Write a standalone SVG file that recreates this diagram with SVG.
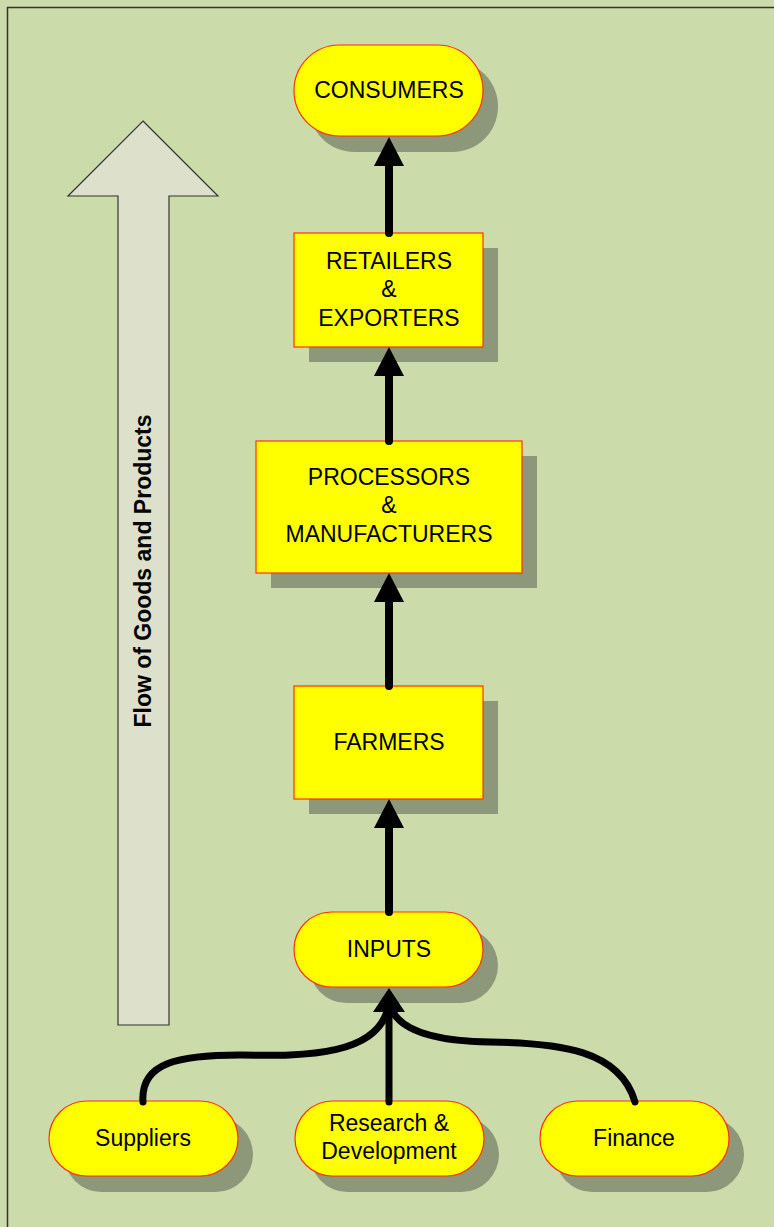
<svg xmlns="http://www.w3.org/2000/svg" width="774" height="1227" viewBox="0 0 774 1227">
<defs>
<style>
.node{fill:#ffff00;stroke:#ff3300;stroke-width:1.2}
.shadow{fill:#8d977a}
.lbl{font-family:"Liberation Sans",Arial,sans-serif;font-size:23px;fill:#000;text-anchor:middle}
.edge{stroke:#000;stroke-width:8;fill:none;stroke-linecap:round}
.edge2{stroke:#000;stroke-width:7;fill:none;stroke-linecap:round}
.head{fill:#000}
</style>
</defs>
<rect x="0" y="0" width="774" height="1227" fill="#ccdbaa"/>
<path d="M7.5,1227 V7.5 H774" fill="none" stroke="#333" stroke-width="1.5"/>

<g id="flow-arrow">
<polygon points="143,121 218,196 169,196 169,1025 118,1025 118,196 68,196" fill="#dde0ca" stroke="#333" stroke-width="1.2"/>
<text class="lbl" transform="translate(151,571) rotate(-90)" style="font-weight:bold">Flow of Goods and Products</text>
</g>

<g id="consumers">
<rect class="shadow" x="309" y="61" width="189" height="91" rx="45.5"/>
<rect class="node" x="294" y="45" width="189" height="91" rx="45.5"/>
<text class="lbl" x="389" y="98">CONSUMERS</text>
</g>

<g id="retailers">
<rect class="shadow" x="309" y="248" width="189" height="114"/>
<rect class="node" x="294" y="233" width="189" height="114"/>
<text class="lbl" x="389" y="269">RETAILERS</text>
<text class="lbl" x="389" y="297">&amp;</text>
<text class="lbl" x="389" y="326">EXPORTERS</text>
</g>

<g id="processors">
<rect class="shadow" x="271" y="456" width="266" height="132"/>
<rect class="node" x="256" y="441" width="266" height="132"/>
<text class="lbl" x="389" y="485">PROCESSORS</text>
<text class="lbl" x="389" y="513">&amp;</text>
<text class="lbl" x="389" y="542">MANUFACTURERS</text>
</g>

<g id="farmers">
<rect class="shadow" x="309" y="701" width="189" height="113"/>
<rect class="node" x="294" y="686" width="189" height="113"/>
<text class="lbl" x="389" y="750">FARMERS</text>
</g>

<g id="inputs">
<rect class="shadow" x="309" y="928" width="189" height="75" rx="37.5"/>
<rect class="node" x="294" y="912" width="189" height="75" rx="37.5"/>
<text class="lbl" x="389" y="957">INPUTS</text>
</g>

<g id="suppliers">
<rect class="shadow" x="64" y="1117" width="189" height="75" rx="37.5"/>
<rect class="node" x="49" y="1101" width="189" height="75" rx="37.5"/>
<text class="lbl" x="143" y="1146">Suppliers</text>
</g>

<g id="research">
<rect class="shadow" x="310" y="1117" width="189" height="75" rx="37.5"/>
<rect class="node" x="295" y="1101" width="189" height="75" rx="37.5"/>
<text class="lbl" x="389" y="1131">Research &amp;</text>
<text class="lbl" x="389" y="1159">Development</text>
</g>

<g id="finance">
<rect class="shadow" x="555" y="1117" width="189" height="75" rx="37.5"/>
<rect class="node" x="540" y="1101" width="189" height="75" rx="37.5"/>
<text class="lbl" x="634" y="1146">Finance</text>
</g>

<g id="connectors">
<line class="edge" x1="389" y1="233" x2="389" y2="160"/>
<polygon class="head" points="389,137 374,166 404,166"/>
<line class="edge" x1="389" y1="441" x2="389" y2="370"/>
<polygon class="head" points="389,347 374,376 404,376"/>
<line class="edge" x1="389" y1="686" x2="389" y2="596"/>
<polygon class="head" points="389,573 374,602 404,602"/>
<line class="edge" x1="389" y1="912" x2="389" y2="822"/>
<polygon class="head" points="389,799 374,828 404,828"/>
<path class="edge2" d="M143,1102 C140,1062 180,1055 240,1055 C300,1056 385,1058 389,1000"/>
<path class="edge2" d="M635,1102 C620,1050 560,1043 490,1042 C420,1041 392,1025 389,1000"/>
<line class="edge2" x1="389" y1="1102" x2="389" y2="1005"/>
<polygon class="head" points="389,988 373,1012 405,1012"/>
</g>
</svg>
